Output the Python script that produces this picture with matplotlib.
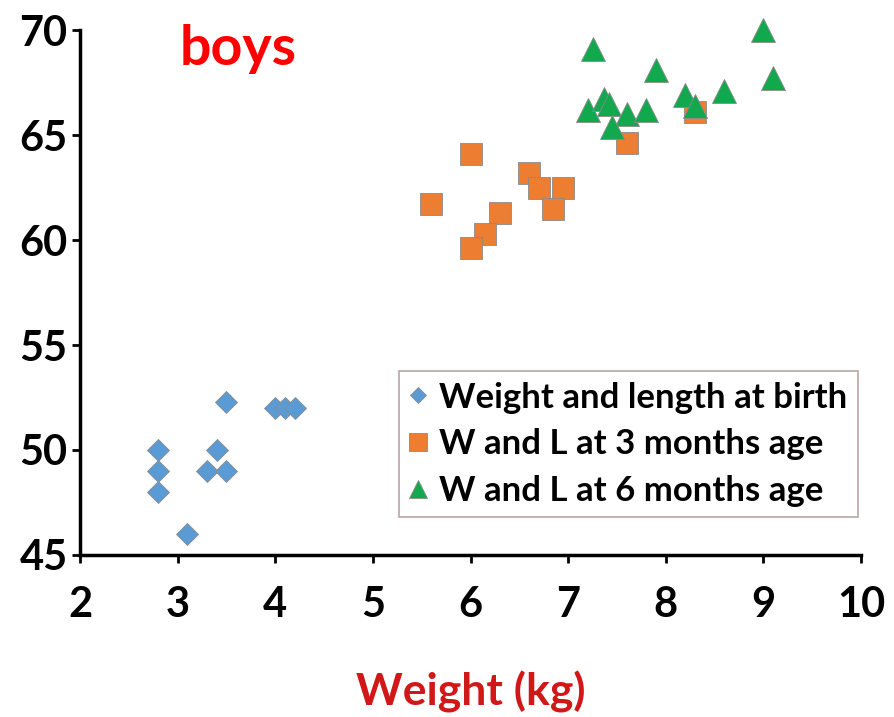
import matplotlib
matplotlib.use("Agg")
import matplotlib.pyplot as plt

# Data
birth_w = [3.5, 4.0, 4.1, 4.2, 2.8, 2.8, 2.8, 3.4, 3.3, 3.5, 3.1]
birth_l = [52.3, 52.0, 52.0, 52.0, 50.0, 49.0, 48.0, 50.0, 49.0, 49.0, 46.0]

m3_w = [6.0, 5.6, 6.6, 6.7, 6.95, 6.85, 6.3, 6.15, 6.0, 7.6, 8.3]
m3_l = [64.1, 61.7, 63.2, 62.5, 62.5, 61.5, 61.3, 60.3, 59.6, 64.6, 66.1]

m6_w = [7.25, 9.0, 7.9, 9.1, 8.2, 8.6, 8.3, 7.2, 7.37, 7.42, 7.6, 7.8, 7.45]
m6_l = [69.1, 70.0, 68.1, 67.7, 66.9, 67.1, 66.4, 66.2, 66.7, 66.5, 66.0, 66.2, 65.4]

series_labels = ["Weight and length at birth", "W and L at 3 months age", "W and L at 6 months age"]
x_ticks = [2, 3, 4, 5, 6, 7, 8, 9, 10]
y_ticks = [45, 50, 55, 60, 65, 70]

plt.rcParams['font.family'] = ['Lato', 'DejaVu Sans']
plt.rcParams['font.weight'] = 'bold'

fig = plt.figure(figsize=(8.95, 7.17), dpi=100)
ax = fig.add_axes([0.0894, 0.226, 0.8726, 0.732])

edge = '#8a8a8a'
ax.plot(birth_w, birth_l, linestyle='none', marker='D', ms=11.5, color='#5B9BD5',
        mec=edge, mew=0.6, label=series_labels[0], clip_on=False)
ax.plot(m3_w, m3_l, linestyle='none', marker='s', ms=16.5, color='#ED7D31',
        mec=edge, mew=0.6, label=series_labels[1], clip_on=False)
ax.plot(m6_w, m6_l, linestyle='none', marker='^', ms=17.5, color='#11A84E',
        mec=edge, mew=0.6, label=series_labels[2], clip_on=False)

ax.set_xlim(2, 10)
ax.set_ylim(45, 70)
ax.set_xticks(x_ticks)
ax.set_yticks(y_ticks)
ax.set_xticklabels([str(t) for t in x_ticks], fontsize=30, fontweight='bold')
ax.set_yticklabels([str(t) for t in y_ticks], fontsize=30, fontweight='bold')

for s in ['top', 'right']:
    ax.spines[s].set_visible(False)
for s in ['left', 'bottom']:
    ax.spines[s].set_linewidth(2.5)
    ax.spines[s].set_color('black')
ax.tick_params(axis='both', direction='out', length=6, width=2, color='black')
ax.tick_params(axis='x', pad=16)
ax.tick_params(axis='y', pad=3)

ax.text(0.128, 1.012, "boys", transform=ax.transAxes, color='#FF0000',
        fontsize=40, fontweight='bold', ha='left', va='top')
ax.set_xlabel("Weight (kg)", color='#D01818', fontsize=32, fontweight='bold', labelpad=34)

leg = ax.legend(loc='lower right', bbox_to_anchor=(0.996, 0.072),
                frameon=True, fancybox=False, markerscale=0.75, handlelength=0.5,
                handletextpad=0.35, borderpad=0.3, labelspacing=0.42, borderaxespad=0,
                prop={'weight': 'bold', 'size': 25})
leg.get_frame().set_edgecolor('#a88f8f')
leg.get_frame().set_linewidth(1.2)

fig.savefig("out.png", dpi=100)
